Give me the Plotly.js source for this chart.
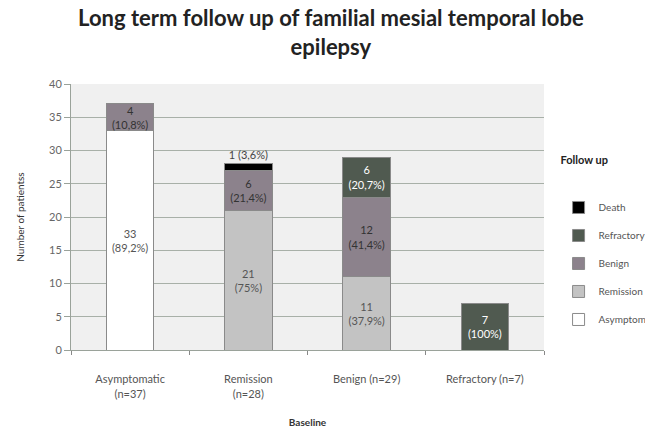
<!DOCTYPE html>
<html>
<head>
<meta charset="utf-8">
<script src="https://cdn.plot.ly/plotly-3.0.1.min.js"></script>
<style>html,body{margin:0;padding:0;background:#fff;}#chart{width:645px;height:435px;}</style>
</head>
<body>
<div id="chart"></div>
<script>
var categories = ['Asymptomatic<br>(n=37)', 'Remission<br>(n=28)', 'Benign (n=29)', 'Refractory (n=7)'];
var seriesNames = ['Asymptomatic', 'Remission', 'Benign', 'Refractory', 'Death'];
var asymptomatic = [33, null, null, null];
var remission = [null, 21, 11, null];
var benign = [4, 6, 12, null];
var refractory = [null, null, 6, 7];
var death = [null, 1, null, null];
var asymptomaticText = ['33<br>(89,2%)', '', '', ''];
var remissionText = ['', '21<br>(75%)', '11<br>(37,9%)', ''];
var benignText = ['4<br>(10,8%)', '6<br>(21,4%)', '12<br>(41,4%)', ''];
var refractoryText = ['', '', '6<br>(20,7%)', '7<br>(100%)'];
var deathText = ['', '1 (3,6%)', '', ''];

var colors = ['#ffffff', '#c3c3c3', '#8c828c', '#505a50', '#000000'];
var textColors = ['#555555', '#555555', '#333333', '#ffffff', '#444444'];
var values = [asymptomatic, remission, benign, refractory, death];
var texts = [asymptomaticText, remissionText, benignText, refractoryText, deathText];
var FONT = 'Lato, "Open Sans", sans-serif';

var traces = seriesNames.map(function (name, i) {
  return {
    type: 'bar',
    name: name,
    x: categories,
    y: values[i],
    text: texts[i],
    textposition: i === 4 ? 'outside' : 'inside',
    insidetextanchor: 'middle',
    constraintext: 'none',
    textangle: 0,
    cliponaxis: false,
    textfont: {family: FONT, size: 11, color: textColors[i]},
    outsidetextfont: {family: FONT, size: 11, color: '#444444'},
    marker: {color: colors[i], line: {color: '#8a8a8a', width: 1}},
    width: 0.4,
    legendgroup: name,
    legendrank: 5 - i,
    hoverinfo: 'none'
  };
});

var layout = {
  width: 645, height: 435,
  margin: {l: 71, r: 101, t: 84, b: 85},
  paper_bgcolor: '#ffffff',
  plot_bgcolor: '#f0f0f0',
  barmode: 'stack',
  showlegend: true,
  font: {family: FONT, color: '#444'},
  title: {
    text: '<b>Long term follow up of familial mesial temporal lobe<br>epilepsy</b>',
    font: {family: FONT, size: 22, color: '#222'},
    x: 0.513, xanchor: 'center', xref: 'container',
    y: 0.940, yanchor: 'middle', yref: 'container'
  },
  xaxis: {
    type: 'category',
    tickson: 'boundaries',
    ticks: 'outside', ticklen: 4, tickcolor: '#888',
    showline: true, linecolor: '#9aa29a', linewidth: 1,
    showgrid: false,
    ticklabelstandoff: 19,
    tickfont: {size: 11, color: '#555'},
    title: {text: '<b>Baseline</b>', font: {size: 10, color: '#333'}, standoff: 20}
  },
  yaxis: {
    range: [0, 40], dtick: 5,
    ticks: 'outside', ticklen: 6, tickcolor: '#9aa29a',
    showline: true, linecolor: '#9aa29a', linewidth: 1,
    gridcolor: '#a8b0a8', gridwidth: 1,
    zeroline: false,
    tickfont: {size: 11, color: '#666'},
    title: {text: 'Number of patientss', font: {size: 10, color: '#333'}, standoff: 22}
  },
  legend: {
    xref: 'container', yref: 'container',
    x: 0.866, xanchor: 'left', y: 0.655, yanchor: 'top',
    traceorder: 'grouped',
    tracegroupgap: 9,
    itemwidth: 30,
    font: {size: 10, color: '#555'},
    title: {text: '<b>Follow up</b><br> <br> ', font: {size: 11, color: '#222'}},
    bgcolor: 'rgba(0,0,0,0)'
  }
};

Plotly.newPlot('chart', traces, layout, {displayModeBar: false, staticPlot: true});
</script>
</body>
</html>
